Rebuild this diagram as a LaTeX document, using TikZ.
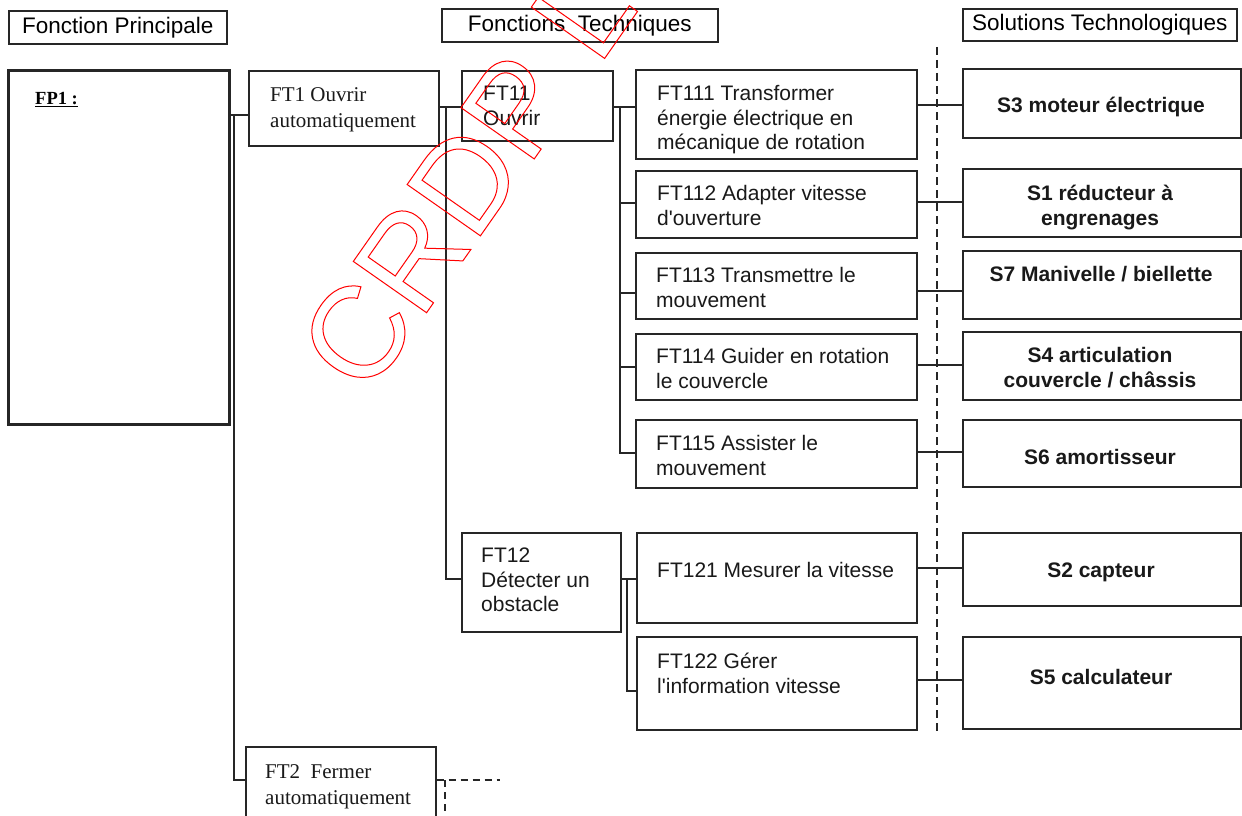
\documentclass[tikz,border=0pt]{standalone}
\usepackage{fontspec}
\setmainfont{Liberation Serif}
\newfontfamily\arial{Liberation Sans}
\newfontfamily\tnr{Liberation Serif}
\newcommand{\fl}{\rule{0pt}{15.5pt}}
\begin{document}
\begin{tikzpicture}[x=1pt,y=1pt,
  box/.style={draw=black!85, line width=1.6pt, inner sep=0, anchor=north west, fill=none},
  hd/.style={draw=black!85, line width=1.6pt, inner sep=0, anchor=north west, font=\arial\fontsize{22.5}{26}\selectfont},
  tx/.style={anchor=north west, inner sep=0, align=left, font=\arial\fontsize{21}{24.5}\selectfont, text=black!90},
  tr/.style={anchor=north west, inner sep=0, align=left, font=\tnr\fontsize{21}{25.5}\selectfont, text=black!90},
  sx/.style={anchor=north, inner sep=0, align=center, font=\arial\bfseries\fontsize{21}{24.5}\selectfont, text=black!90},
  ln/.style={draw=black!85, line width=1.4pt},
  sepl/.style={draw=black!85, line width=2pt, dash pattern=on 8pt off 5pt},
  dsh/.style={draw=black!85, line width=1.5pt, dash pattern=on 7pt off 5pt}]
\useasboundingbox[fill=white] (0,0) rectangle (1242,-816);
\clip (0,0) rectangle (1242,-816);
\newcommand{\bx}[6][box]{\node[#1, minimum width={(#5-#3)*1pt}, minimum height={(#6-#4)*1pt}] (#2) at (#3,-#4) {};}
% headings
\node[hd, minimum width=218pt, minimum height=33pt] (h1) at (8,-10) {Fonction Principale};
\node[hd, minimum width=276pt, minimum height=33pt] (h2) at (441,-8) {Fonctions\ \ Techniques};
\node[hd, minimum width=274pt, minimum height=32pt] (h3) at (962,-8) {Solutions Technologiques};
% boxes
\bx[box, line width=3.2pt]{fp1}{7}{69}{228}{423}
\bx{ft1}{248}{70}{438}{145}
\bx{ft11}{461}{70}{612}{140}
\bx{ft111}{635}{69}{916}{158}
\bx{ft112}{635}{170}{916}{237}
\bx{ft113}{635}{252}{916}{318}
\bx{ft114}{635}{333}{916}{399}
\bx{ft115}{635}{419}{916}{487}
\bx{ft12}{461}{532}{620}{631}
\bx{ft121}{636}{532}{916}{622}
\bx{ft122}{636}{636}{916}{729}
\bx{ft2}{245}{746}{435}{840}
\bx{s3}{962}{68}{1240}{137}
\bx{s1}{962}{168}{1240}{236}
\bx{s7}{962}{250}{1240}{318}
\bx{s4}{962}{331}{1240}{399}
\bx{s6}{962}{419}{1240}{486}
\bx{s2}{962}{532}{1240}{605}
\bx{s5}{962}{636}{1240}{728}
% texts
\node[anchor=north west, inner sep=0, font=\tnr\bfseries\fontsize{18.5}{21}\selectfont] (fp1t) at (35,-92) {\underline{FP1 :}};
\node[tr] (ft1t) at (270,-86) {\fl FT1 Ouvrir\\automatiquement};
\node[tr, font=\tnr\fontsize{21}{26}\selectfont] (ft2t) at (265,-763) {\fl FT2\ \ Fermer\\automatiquement};
\node[tx] (ft11t) at (483,-85) {\fl FT11\\Ouvrir};
\node[tx] (ft111t) at (657,-85) {\fl FT111 Transformer\\énergie électrique en\\mécanique de rotation};
\node[tx] (ft112t) at (657,-185) {\fl FT112 Adapter vitesse\\d'ouverture};
\node[tx] (ft113t) at (656,-267) {\fl FT113 Transmettre le\\mouvement};
\node[tx] (ft114t) at (656,-348) {\fl FT114 Guider en rotation\\le couvercle};
\node[tx] (ft115t) at (656,-435) {\fl FT115 Assister le\\mouvement};
\node[tx] (ft12t) at (481,-547) {\fl FT12\\Détecter un\\obstacle};
\node[tx] (ft121t) at (657,-562) {\fl FT121 Mesurer la vitesse};
\node[tx] (ft122t) at (657,-653) {\fl FT122 Gérer\\l'information vitesse};
\node[sx] (s3t) at (1101,-97) {\fl S3 moteur électrique};
\node[sx] (s1t) at (1100,-185) {\fl S1 réducteur à\\engrenages};
\node[sx] (s7t) at (1101,-266) {\fl S7 Manivelle / biellette};
\node[sx] (s4t) at (1100,-347) {\fl S4 articulation\\couvercle / châssis};
\node[sx] (s6t) at (1100,-449) {\fl S6 amortisseur};
\node[sx] (s2t) at (1101,-562) {\fl S2 capteur};
\node[sx] (s5t) at (1101,-669) {\fl S5 calculateur};
% connectors level 1
\coordinate (a1) at (234,-115);
\coordinate (a2) at (234,-780);
\draw[ln] (fp1.east |- a1) -- (ft1.west |- a1);
\draw[ln] (a1) -- (a2) -- (ft2.west |- a2);
% level 2
\coordinate (b1) at (446,-107);
\coordinate (b2) at (446,-579);
\draw[ln] (ft1.east |- b1) -- (ft11.west |- b1);
\draw[ln] (b1) -- (b2) -- (ft12.west |- b2);
% level 3 (FT11)
\coordinate (c1) at (620,-107);
\coordinate (c2) at (620,-453);
\draw[ln] (ft11.east |- c1) -- (ft111.west |- c1);
\draw[ln] (c1) -- (c2) -- (ft115.west |- c2);
\foreach \n/\y in {ft112/203, ft113/293, ft114/367}
  \draw[ln] (\n.west |- 0,-\y) -- ++(-15,0);
% level 3 (FT12)
\coordinate (f1) at (627,-579);
\coordinate (f2) at (627,-691);
\draw[ln] (ft12.east |- f1) -- (ft121.west |- f1);
\draw[ln] (f1) -- (f2) -- (ft122.west |- f2);
% to solutions
\foreach \a/\b/\y in {ft111/s3/105, ft112/s1/202, ft113/s7/291, ft114/s4/365, ft115/s6/452, ft121/s2/568, ft122/s5/680}
  \draw[ln] (\a.east |- 0,-\y) -- (\b.west |- 0,-\y);
% separator
\coordinate (d1) at (937,-47);
\coordinate (d2) at (937,-735);
\draw[sepl] (d1) -- (d2);
% FT2 dashed continuation
\coordinate (e1) at (445,-780);
\coordinate (e2) at (500,-780);
\coordinate (e3) at (445,-830);
\draw[dsh] (ft2.east |- e1) -- (e2);
\draw[dsh] (e1) -- (e3);
% watermark
\node[anchor=base west, rotate=55, inner sep=0, text=red, font=\arial\fontsize{130}{130}\selectfont] (wm) at (366.5,-398.5)
  {\special{pdf:literal direct 1 Tr 1 w}CRDP L\special{pdf:literal direct 0 Tr}};
\end{tikzpicture}
\end{document}
